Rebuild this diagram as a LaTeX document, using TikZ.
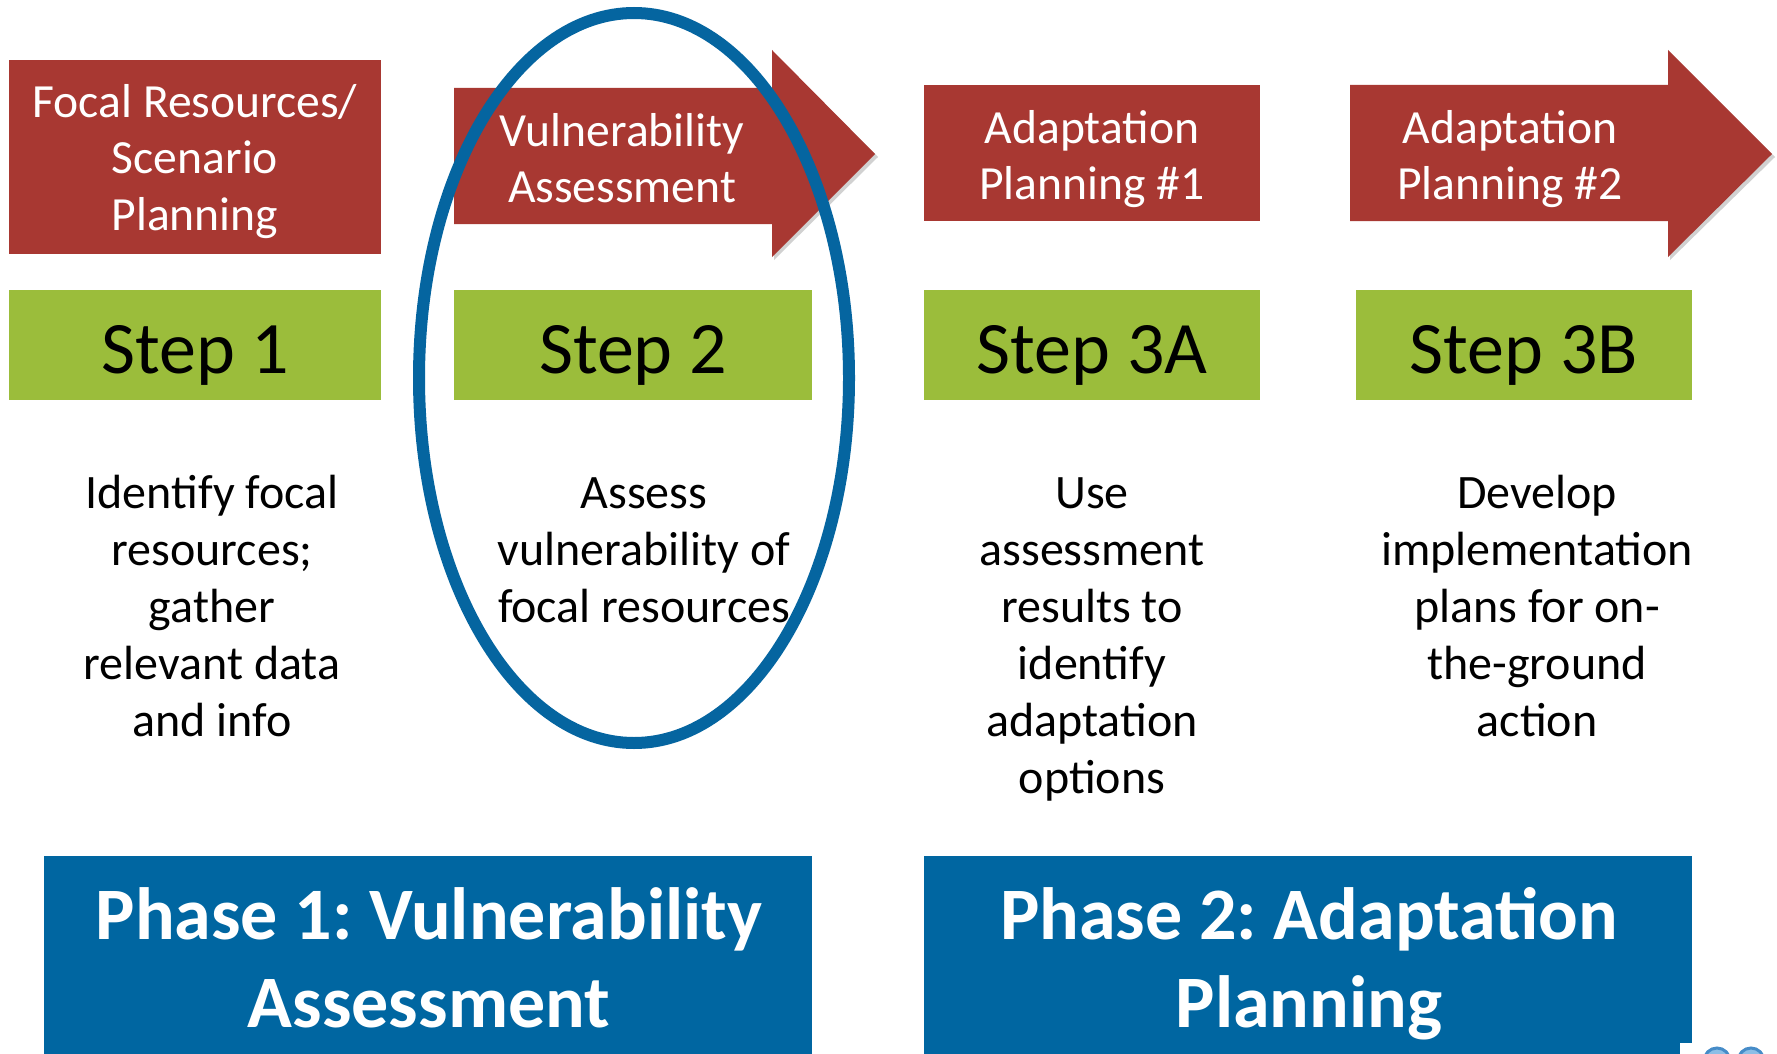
\documentclass[tikz,border=0pt]{standalone}
\usepackage{fontspec}
\setmainfont{Carlito}
\frenchspacing
\definecolor{boxred}{RGB}{168,56,50}
\definecolor{boxgreen}{RGB}{155,189,59}
\definecolor{phaseblue}{RGB}{0,102,161}
\definecolor{ringblue}{RGB}{5,101,160}
\definecolor{logoblue}{RGB}{70,140,200}
\definecolor{logolight}{RGB}{140,190,230}
\tikzset{
  redfill/.style={fill=boxred, draw=none},
  redbox/.style={fill=boxred, draw=none, inner sep=0pt, anchor=north west},
  greenbox/.style={fill=boxgreen, draw=none, inner sep=0pt, anchor=north west},
  bluebox/.style={fill=phaseblue, draw=none, inner sep=0pt, anchor=north west},
  headshadow/.style={fill=black, opacity=0.18, draw=none},
  redtext/.style={text=white, align=center, inner sep=0pt, anchor=base,
    font=\fontsize{47.6}{56.5}\selectfont},
  steptext/.style={text=black, inner sep=0pt, anchor=base,
    font=\fontsize{74}{89}\selectfont},
  bodytext/.style={text=black, align=center, inner sep=0pt, anchor=base,
    font=\fontsize{48}{57}\selectfont},
  phasetext/.style={text=white, align=center, inner sep=0pt, anchor=base,
    font=\fontsize{74}{88}\selectfont\bfseries},
  ring/.style={draw=ringblue, line width=12pt, fill=none},
}
\begin{document}
\begin{tikzpicture}[x=1pt,y=-1pt]
\useasboundingbox (0,0) rectangle (1777,1054);
\fill[white] (0,0) rectangle (1777,1054);
\begin{scope}
\clip (0,0) rectangle (1777,1054);

% red header shapes
\node[redbox, minimum width=372pt, minimum height=194pt] (focalbox) at (9,60) {};
\fill[headshadow] (774,53) -- (878,157) -- (774,260) -- cycle;
\fill[redfill] (454,88) -- (772,88) -- (772,50) -- (875,154) -- (772,257) -- (772,224) -- (454,224) -- cycle;
\node[redbox, minimum width=336pt, minimum height=136pt] (ad1box) at (924,85) {};
\fill[headshadow] (1670,53) -- (1775,157) -- (1670,260) -- cycle;
\fill[redfill] (1350,85) -- (1668,85) -- (1668,50) -- (1772,154) -- (1668,257) -- (1668,221) -- (1350,221) -- cycle;

% base anchor = baseline of the last line
\node[redtext] (focal) at (195,230) {Focal Resources/\\Scenario\\Planning};
\node[redtext] (vuln) at (622,202.5) {Vulnerability\\Assessment};
\node[redtext] (ad1) at (1092,199.5) {Adaptation\\Planning \#1};
\node[redtext] (ad2) at (1510,199.5) {Adaptation\\Planning \#2};

% green step boxes
\node[greenbox, minimum width=372pt, minimum height=110pt] (s1box) at (9,290) {};
\node[greenbox, minimum width=358pt, minimum height=110pt] (s2box) at (454,290) {};
\node[greenbox, minimum width=336pt, minimum height=110pt] (s3abox) at (924,290) {};
\node[greenbox, minimum width=336pt, minimum height=110pt] (s3bbox) at (1356,290) {};
\node[steptext] (s1) at (195.5,373) {Step 1};
\node[steptext] (s2) at (633,373) {Step 2};
\node[steptext] (s3a) at (1092,373) {Step 3A};
\node[steptext] (s3b) at (1524,373) {Step 3B};

% descriptions
\node[bodytext] (d1) at (212,736) {Identify focal\\resources;\\gather\\relevant data\\and info};
\node[bodytext] (d2) at (644,622) {Assess\\vulnerability of\\focal resources};
\node[bodytext] (d3a) at (1092,793) {Use\\assessment\\results to\\identify\\adaptation\\options};
\node[bodytext] (d3b) at (1537,736) {Develop\\implementation\\plans for on-\\the-ground\\action};

% phase boxes
\node[bluebox, minimum width=768pt, minimum height=210pt] (p1box) at (44,856) {};
\node[bluebox, minimum width=768pt, minimum height=210pt] (p2box) at (924,856) {};
\node[phasetext] (p1) at (429,1027) {Phase 1: Vulnerability\\Assessment};
\node[phasetext] (p2) at (1309,1027) {Phase 2: Adaptation\\Planning};

% logo fragment bottom right
\fill[white] (1680,1043) rectangle (1777,1060);
\draw[draw=logoblue, line width=3pt, fill=logolight] (1717,1061) circle (13);
\draw[draw=logoblue, line width=3pt, fill=logolight] (1751,1061) circle (13);

% highlight ellipse
\draw[ring] (634,378) ellipse (215 and 365);
\end{scope}
\end{tikzpicture}
\end{document}
